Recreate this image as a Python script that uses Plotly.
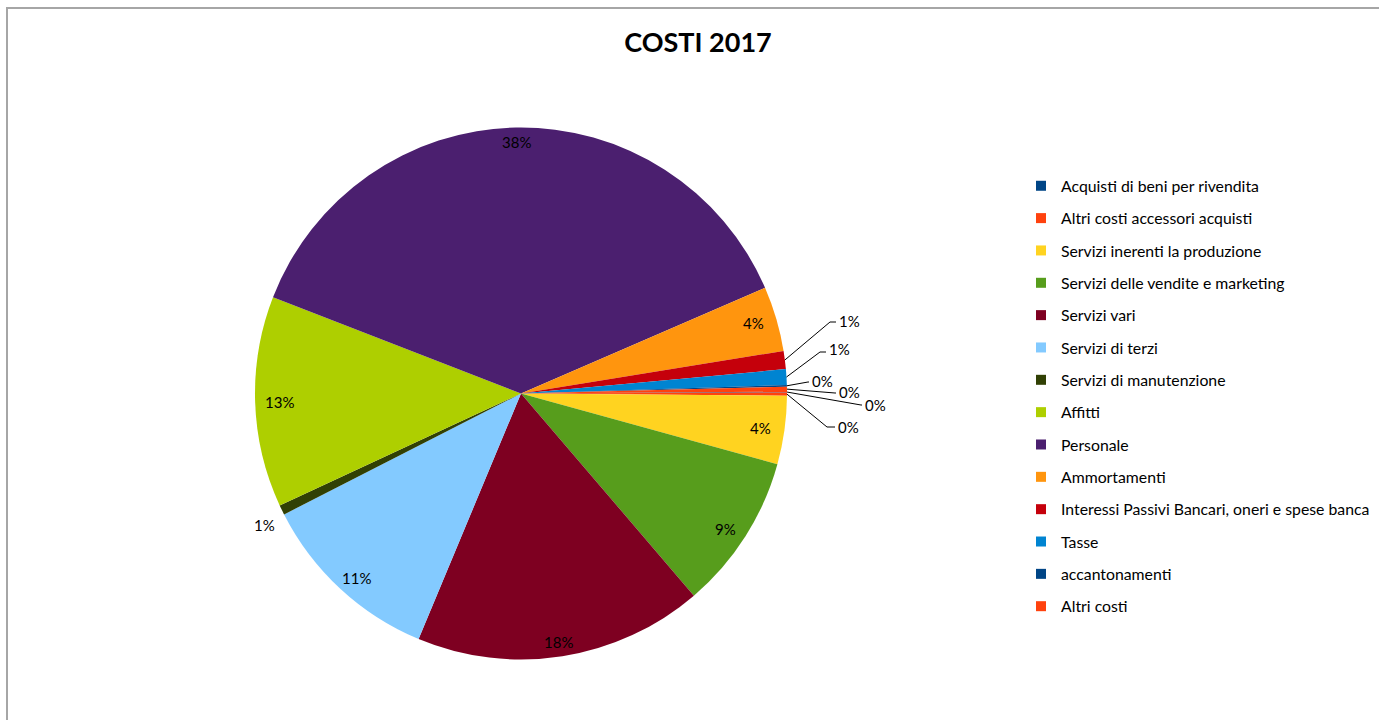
import math
import plotly.graph_objects as go

# ---------------- data ----------------
categories = [
    "Acquisti di beni per rivendita",
    "Altri costi accessori acquisti",
    "Servizi inerenti la produzione",
    "Servizi delle vendite e marketing",
    "Servizi vari",
    "Servizi di terzi",
    "Servizi di manutenzione",
    "Affitti",
    "Personale",
    "Ammortamenti",
    "Interessi Passivi Bancari, oneri e spese banca",
    "Tasse",
    "accantonamenti",
    "Altri costi",
]
shares = [0.05, 0.2, 4.15, 9.45, 17.55, 11.2, 0.6, 12.8, 37.6, 3.95, 1.1, 0.95, 0.1, 0.3]
colors = ["#004586", "#ff420e", "#ffd320", "#579d1c", "#7e0021", "#83caff", "#314004",
          "#aecf00", "#4b1f6f", "#ff950e", "#c5000b", "#0084d1", "#004586", "#ff420e"]
title_text = "COSTI 2017"

# ---------------- layout constants ----------------
W, H = 1379, 720
CX, CY, R = 521, 393.5, 266
ROTATION = 89.6
FONT = "Lato"
LABEL_RX, LABEL_RY = 242, 252          # inside label radii (px)
OUT_RX, OUT_RY = 285, 300              # plain outside label radii (px)
# leader-line labels: elbow point and text-left position (px)
LEADER = {
    "Interessi Passivi Bancari, oneri e spese banca": ((830, 322), (836, 321)),
    "Tasse": ((820, 352), (826, 349)),
    "accantonamenti": ((808, 382), (809, 381)),
    "Altri costi": ((835, 393), (836, 392)),
    "Acquisti di beni per rivendita": ((861, 405), (862, 405)),
    "Altri costi accessori acquisti": ((827, 427), (835, 427)),
}


def px(x):
    return x / W


def py(y):
    return 1 - y / H


total = sum(shares)
fig = go.Figure()

fig.add_trace(go.Pie(
    values=shares, labels=categories, sort=False, direction="clockwise",
    rotation=ROTATION, textinfo="none", hoverinfo="label+percent",
    marker=dict(colors=colors, line=dict(width=0)), showlegend=False,
    domain=dict(x=[px(CX - R), px(CX + R)], y=[py(CY + R), py(CY - R)]),
))

# legend entries
for lbl, c in zip(categories, colors):
    fig.add_trace(go.Scatter(
        x=[None], y=[None], mode="markers", name=lbl, legendgroup=lbl,
        marker=dict(symbol="square", size=10, color=c), hoverinfo="skip",
    ))

annotations = []
shapes = []
cum = 0.0
for lbl, v in zip(categories, shares):
    start = ROTATION + 360 * cum / total
    mid = math.radians(start + 180 * v / total)
    cum += v
    pct = round(100 * v / total)
    txt = f"{pct}%"
    s, c = math.sin(mid), math.cos(mid)
    if lbl in LEADER:
        ex, ey = CX + R * s, CY - R * c
        (bx, by), (tx, ty) = LEADER[lbl]
        shapes.append(dict(
            type="path", xref="paper", yref="paper",
            path=f"M {px(ex)},{py(ey)} L {px(bx)},{py(by)} L {px(tx)},{py(by)}",
            line=dict(color="#000000", width=1),
        ))
        annotations.append(dict(x=px(tx + 1), y=py(ty), xref="paper", yref="paper",
                                text=txt, showarrow=False, xanchor="left", yanchor="middle",
                                font=dict(family=FONT, size=15, color="#000")))
    elif 100 * v / total >= 3:
        annotations.append(dict(x=px(CX + LABEL_RX * s), y=py(CY - LABEL_RY * c),
                                xref="paper", yref="paper", text=txt, showarrow=False,
                                xanchor="center", yanchor="middle",
                                font=dict(family=FONT, size=15, color="#000")))
    else:
        annotations.append(dict(x=px(CX + OUT_RX * s), y=py(CY - OUT_RY * c),
                                xref="paper", yref="paper", text=txt, showarrow=False,
                                xanchor="center", yanchor="middle",
                                font=dict(family=FONT, size=15, color="#000")))

# chart-area border
shapes.append(dict(type="rect", xref="paper", yref="paper",
                   x0=px(7), x1=1.02, y0=-0.02, y1=py(8),
                   line=dict(color="#a6a6a6", width=2), fillcolor="rgba(0,0,0,0)"))

fig.update_layout(
    width=W, height=H, autosize=False,
    margin=dict(l=0, r=0, t=0, b=0),
    paper_bgcolor="white", plot_bgcolor="white",
    title=dict(text=f"<b>{title_text}</b>", x=px(698), y=py(43), xanchor="center",
               yanchor="middle", xref="paper", yref="paper",
               font=dict(family=FONT, size=27, color="#000")),
    xaxis=dict(visible=False), yaxis=dict(visible=False),
    legend=dict(x=px(1021), y=py(169), xanchor="left", yanchor="top",
                font=dict(family=FONT, size=15.8, color="#000"),
                tracegroupgap=8.8, bgcolor="rgba(0,0,0,0)", borderwidth=0),
    annotations=annotations, shapes=shapes,
)

fig.write_html("out.html")
